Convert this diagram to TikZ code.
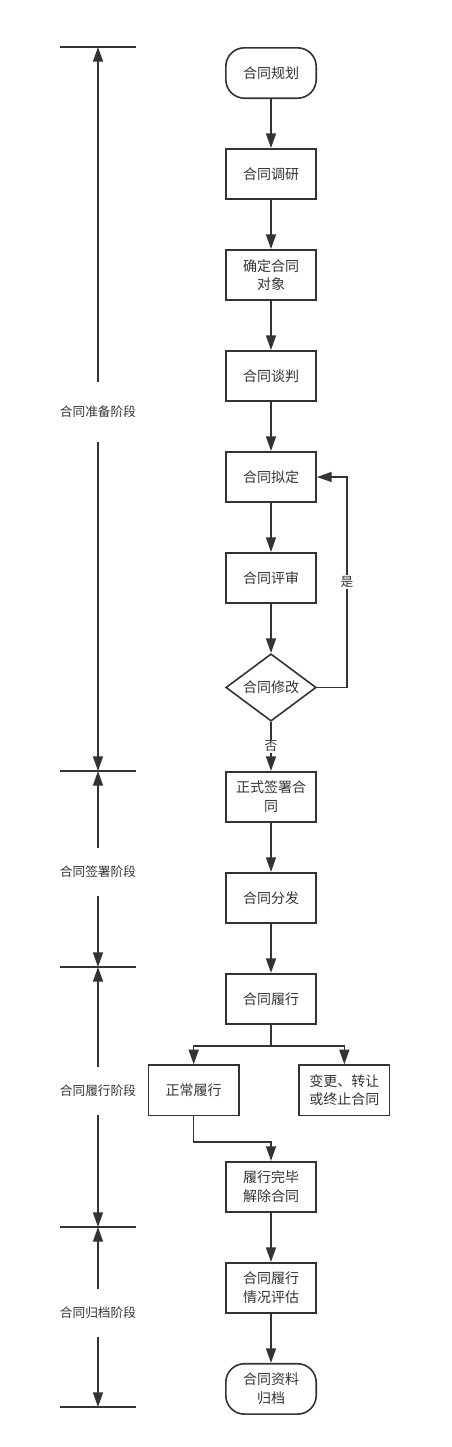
\documentclass[tikz,border=0pt]{standalone}
\usepackage{fontspec}
\setmainfont{Noto Sans CJK SC}
\usetikzlibrary{arrows.meta, positioning, shapes.geometric}
\definecolor{ink}{HTML}{333333}
\tikzset{
  box/.style={rectangle, draw=ink, line width=1.2pt, align=center, text=ink, minimum width=67.8pt, minimum height=37.8pt, inner sep=2pt, font=\fontsize{10.5}{14}\selectfont},
  terminal/.style={box, rounded corners=14pt},
  decision/.style={diamond, aspect=1.4, draw=ink, line width=1.2pt, text=ink, minimum width=67.8pt, minimum height=50.5pt, inner sep=0pt, font=\fontsize{10.5}{14}\selectfont},
  line/.style={draw=ink, line width=1.2pt, -{Triangle[length=11pt,width=7.5pt]}},
  tick/.style={draw=ink, line width=1.2pt},
  stage/.style={text=ink, minimum height=36pt, inner sep=0pt, font=\fontsize{9.5}{12}\selectfont},
  tag/.style={fill=white, text=ink, inner sep=1pt, font=\fontsize{9.5}{12}\selectfont}
}
\begin{document}
\begin{tikzpicture}[x=0.75pt, y=-0.75pt, node distance=36.75pt]
  \useasboundingbox (0,0) rectangle (451,1447);
  % main flow
  \node[terminal] (gh) at (271,73) {合同规划};
  \node[box, below=of gh] (dy) {合同调研};
  \node[box, below=of dy] (qd) {确定合同\\对象};
  \node[box, below=of qd] (tp) {合同谈判};
  \node[box, below=of tp] (nd) {合同拟定};
  \node[box, below=of nd] (ps) {合同评审};
  \node[decision, below=of ps] (xg) {合同修改};
  \node[box, below=of xg] (qs) {正式签署合\\同};
  \node[box, below=of qs] (ff) {合同分发};
  \node[box, below=of ff] (lx) {合同履行};
  \node[box, below=29.5pt of lx, xshift=-58pt] (zc) {正常履行};
  \node[box, below=29.5pt of lx, xshift=55pt] (bg) {变更、转让\\或终止合同};
  \node[box, below=102pt of lx] (wb) {履行完毕\\解除合同};
  \node[box, below=of wb] (pg) {合同履行\\情况评估};
  \node[terminal, below=of pg] (gd) {合同资料\\归档};

  \draw[line] (gh) -- (dy);
  \draw[line] (dy) -- (qd);
  \draw[line] (qd) -- (tp);
  \draw[line] (tp) -- (nd);
  \draw[line] (nd) -- (ps);
  \draw[line] (ps) -- (xg);
  \draw[line] (xg) -- node[tag]{否} (qs);
  \draw[line] (xg.east) -- ++(30,0) |- node[tag, pos=0.25]{是} (nd.east);
  \draw[line] (qs) -- (ff);
  \draw[line] (ff) -- (lx);
  \draw[line] (lx.south) -- ++(0,21) -| (zc.north);
  \draw[line] (lx.south) -- ++(0,21) -| (bg.north);
  \draw[line] (zc.south) -- ++(0,26) -| (wb.north);
  \draw[line] (wb) -- (pg);
  \draw[line] (pg) -- (gd);

  % stages on the left
  \coordinate (t0) at (98,47);
  \coordinate (t1) at (98,771);
  \coordinate (t2) at (98,967);
  \coordinate (t3) at (98,1227);
  \coordinate (t4) at (98,1407);
  \foreach \t in {t0,t1,t2,t3,t4}
    \draw[tick] ([xshift=-28.5pt]\t) -- ([xshift=28.5pt]\t);

  \node[stage, minimum height=45pt] (s1) at (98,412) {合同准备阶段};
  \node[stage] (s2) at (98,872) {合同签署阶段};
  \node[stage] (s3) at (98,1091) {合同履行阶段};
  \node[stage] (s4) at (98,1313) {合同归档阶段};

  \draw[line] (s1) -- (t0);
  \draw[line] (s1) -- (t1);
  \draw[line] (s2) -- (t1);
  \draw[line] (s2) -- (t2);
  \draw[line] (s3) -- (t2);
  \draw[line] (s3) -- (t3);
  \draw[line] (s4) -- (t3);
  \draw[line] (s4) -- (t4);
\end{tikzpicture}
\end{document}
